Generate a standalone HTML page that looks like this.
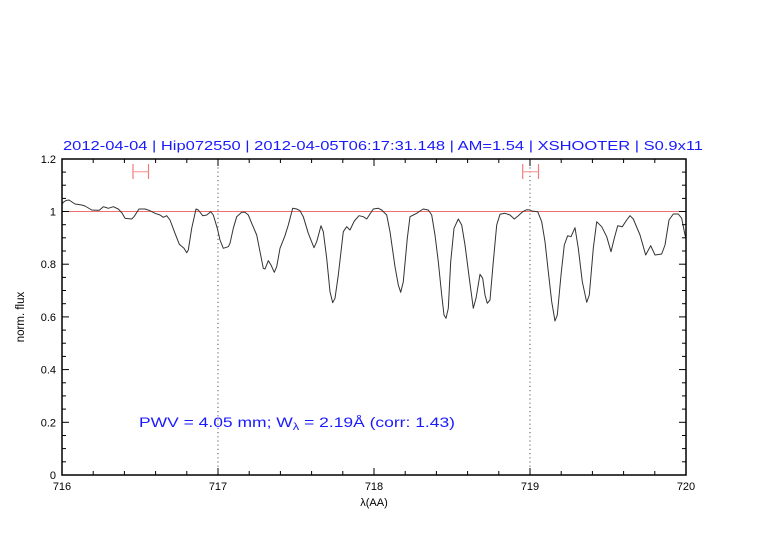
<!DOCTYPE html>
<html>
<head>
<meta charset="utf-8">
<style>
html,body{margin:0;padding:0;background:#fff;}
svg{display:block;}
text{font-family:"Liberation Sans",sans-serif;}
</style>
</head>
<body>
<svg width="782" height="542" viewBox="0 0 782 542" xmlns="http://www.w3.org/2000/svg">
<rect width="782" height="542" fill="#fff"/>

<!-- title -->
<text x="63" y="150" font-size="13" fill="#1a1aff" textLength="640" lengthAdjust="spacingAndGlyphs">2012-04-04 | Hip072550 | 2012-04-05T06:17:31.148 | AM=1.54 | XSHOOTER | S0.9x11</text>

<!-- dotted verticals -->
<line x1="218" y1="159" x2="218" y2="475" stroke="#555" stroke-width="1" stroke-dasharray="1.2,3"/>
<line x1="530" y1="159" x2="530" y2="475" stroke="#555" stroke-width="1" stroke-dasharray="1.2,3"/>

<!-- continuum line -->
<line x1="62" y1="211.5" x2="686" y2="211.5" stroke="#f07070" stroke-width="1"/>

<!-- red markers -->
<g stroke="#f47a7a" stroke-width="1.2" fill="none">
<line x1="133" y1="164" x2="133" y2="179"/>
<line x1="148.5" y1="164" x2="148.5" y2="179"/>
<line x1="133" y1="171.7" x2="148.5" y2="171.7" stroke="#f8a0a0"/>
<line x1="522.7" y1="164" x2="522.7" y2="179"/>
<line x1="538.5" y1="164" x2="538.5" y2="179"/>
<line x1="522.7" y1="171.7" x2="538.5" y2="171.7" stroke="#f8a0a0"/>
</g>

<!-- spectrum -->
<polyline fill="none" stroke="#333" stroke-width="1" stroke-linejoin="round" points="
62,204 63.3,202.3 66,200.5 69,200 72,202 75,204 81.7,205 85,206 91.7,210 96.7,210.3 99.3,210.3 103.3,206.7 106,207.5 108.3,208.3 113.3,206.7 118.3,209 122,213 125,218.3 131.7,219 134,216.7 139,209 145,209 150,210.7 155,213.3 160,215 163.3,217.3 166.7,215.7 170,220 175,233.3 179.3,244.3 184,248.3 186.7,252.7 188.3,250 191.7,228.3 196,209 198.3,210 202.7,215.7 206.7,215 210.7,211.7 213.3,215 217.3,228.3 220,240 223.3,248.3 228.3,246.7 230,243.3 233.3,228.3 236.7,216.7 241.7,212.3 245,212.3 248.3,215 251.7,223.3 256.7,235 260,251.7 263.3,268.3 265,269 268.3,260.7 271,265 274.3,272.3 276.7,266.7 280,248.3 285,235.7 288.3,225 292.7,208.3 296.7,209 300,210.7 303.3,216.7 308.3,233.3 314,247.7 316.7,241.7 321,225.7 323.3,231.7 326.7,258.3 330,291.7 332.7,302.7 335,298.3 338.3,275 343.3,231.7 346.7,226.7 350,230 354.3,221 359,215.7 363.3,216.7 366.7,219 369.3,215 373.3,209 378.3,208.3 381.7,210 386.7,215 390,231.7 395,266.7 398.3,285 400.7,292.3 403.3,281.7 407.3,238.3 410,216.7 413.3,215 416.7,213.3 420,211 423.3,209 428.3,210 431.7,215 435,235 438.3,261.7 441.7,295 444,315 446,318.3 448.3,308.3 450.7,261.7 454,228.3 458.3,219 461.7,225 465,245 469.3,278.3 473.3,308.3 476,298.3 480,274.3 482.7,278.3 485,295 487.3,303.3 490,300 493.3,261.7 496.7,225 500,214.3 505,213.3 510,215 514.3,219 518.3,215.7 522.7,211.7 526.7,209.7 530,210 531.7,211 537.7,211.7 541.7,221.7 545,241.7 548.3,271.7 551.7,301.7 555,321 557.3,315 561,275 564.3,245 567.7,235.7 571,236.7 575,227.7 578.3,248.3 582.3,281.7 586.7,302.3 589.3,295 593.3,248.3 596.7,221.7 601.7,226.7 606.7,236.7 611,251.7 614.3,238.3 617.7,225.7 622.3,226.7 626.7,220 630,215.7 633.3,219 640,235 645.7,255 650.7,245.7 655,255 661.7,254 665,245 669,220 673.3,214 678.3,214 681.7,218.3 685,235 686,238"/>

<!-- axes box -->
<rect x="62" y="159" width="624" height="316" fill="none" stroke="#000" stroke-width="1.5"/>

<!-- x ticks -->
<g stroke="#000" stroke-width="1">
<!-- major bottom/top -->
<line x1="62" y1="475" x2="62" y2="468"/><line x1="218" y1="475" x2="218" y2="468"/><line x1="374" y1="475" x2="374" y2="468"/><line x1="530" y1="475" x2="530" y2="468"/><line x1="686" y1="475" x2="686" y2="468"/>
<line x1="62" y1="159" x2="62" y2="166"/><line x1="218" y1="159" x2="218" y2="166"/><line x1="374" y1="159" x2="374" y2="166"/><line x1="530" y1="159" x2="530" y2="166"/><line x1="686" y1="159" x2="686" y2="166"/>
<!-- minor bottom -->
<line x1="93.2" y1="475" x2="93.2" y2="471"/><line x1="124.4" y1="475" x2="124.4" y2="471"/><line x1="155.6" y1="475" x2="155.6" y2="471"/><line x1="186.8" y1="475" x2="186.8" y2="471"/>
<line x1="249.2" y1="475" x2="249.2" y2="471"/><line x1="280.4" y1="475" x2="280.4" y2="471"/><line x1="311.6" y1="475" x2="311.6" y2="471"/><line x1="342.8" y1="475" x2="342.8" y2="471"/>
<line x1="405.2" y1="475" x2="405.2" y2="471"/><line x1="436.4" y1="475" x2="436.4" y2="471"/><line x1="467.6" y1="475" x2="467.6" y2="471"/><line x1="498.8" y1="475" x2="498.8" y2="471"/>
<line x1="561.2" y1="475" x2="561.2" y2="471"/><line x1="592.4" y1="475" x2="592.4" y2="471"/><line x1="623.6" y1="475" x2="623.6" y2="471"/><line x1="654.8" y1="475" x2="654.8" y2="471"/>
<!-- minor top -->
<line x1="93.2" y1="159" x2="93.2" y2="163"/><line x1="124.4" y1="159" x2="124.4" y2="163"/><line x1="155.6" y1="159" x2="155.6" y2="163"/><line x1="186.8" y1="159" x2="186.8" y2="163"/>
<line x1="249.2" y1="159" x2="249.2" y2="163"/><line x1="280.4" y1="159" x2="280.4" y2="163"/><line x1="311.6" y1="159" x2="311.6" y2="163"/><line x1="342.8" y1="159" x2="342.8" y2="163"/>
<line x1="405.2" y1="159" x2="405.2" y2="163"/><line x1="436.4" y1="159" x2="436.4" y2="163"/><line x1="467.6" y1="159" x2="467.6" y2="163"/><line x1="498.8" y1="159" x2="498.8" y2="163"/>
<line x1="561.2" y1="159" x2="561.2" y2="163"/><line x1="592.4" y1="159" x2="592.4" y2="163"/><line x1="623.6" y1="159" x2="623.6" y2="163"/><line x1="654.8" y1="159" x2="654.8" y2="163"/>
</g>

<!-- y ticks -->
<g stroke="#000" stroke-width="1">
<!-- major left/right: 0..1.2 step 0.2 -->
<line x1="62" y1="475" x2="69" y2="475"/><line x1="62" y1="422.3" x2="69" y2="422.3"/><line x1="62" y1="369.6" x2="69" y2="369.6"/><line x1="62" y1="316.9" x2="69" y2="316.9"/><line x1="62" y1="264.2" x2="69" y2="264.2"/><line x1="62" y1="211.5" x2="69" y2="211.5"/><line x1="62" y1="159" x2="69" y2="159"/>
<line x1="686" y1="475" x2="679" y2="475"/><line x1="686" y1="422.3" x2="679" y2="422.3"/><line x1="686" y1="369.6" x2="679" y2="369.6"/><line x1="686" y1="316.9" x2="679" y2="316.9"/><line x1="686" y1="264.2" x2="679" y2="264.2"/><line x1="686" y1="211.5" x2="679" y2="211.5"/><line x1="686" y1="159" x2="679" y2="159"/>
<!-- minor left -->
<line x1="62" y1="461.8" x2="66" y2="461.8"/><line x1="62" y1="448.6" x2="66" y2="448.6"/><line x1="62" y1="435.5" x2="66" y2="435.5"/>
<line x1="62" y1="409.1" x2="66" y2="409.1"/><line x1="62" y1="395.9" x2="66" y2="395.9"/><line x1="62" y1="382.8" x2="66" y2="382.8"/>
<line x1="62" y1="356.4" x2="66" y2="356.4"/><line x1="62" y1="343.2" x2="66" y2="343.2"/><line x1="62" y1="330.1" x2="66" y2="330.1"/>
<line x1="62" y1="303.7" x2="66" y2="303.7"/><line x1="62" y1="290.5" x2="66" y2="290.5"/><line x1="62" y1="277.4" x2="66" y2="277.4"/>
<line x1="62" y1="251" x2="66" y2="251"/><line x1="62" y1="237.8" x2="66" y2="237.8"/><line x1="62" y1="224.7" x2="66" y2="224.7"/>
<line x1="62" y1="198.4" x2="66" y2="198.4"/><line x1="62" y1="185.2" x2="66" y2="185.2"/><line x1="62" y1="172.1" x2="66" y2="172.1"/>
<!-- minor right -->
<line x1="686" y1="461.8" x2="682" y2="461.8"/><line x1="686" y1="448.6" x2="682" y2="448.6"/><line x1="686" y1="435.5" x2="682" y2="435.5"/>
<line x1="686" y1="409.1" x2="682" y2="409.1"/><line x1="686" y1="395.9" x2="682" y2="395.9"/><line x1="686" y1="382.8" x2="682" y2="382.8"/>
<line x1="686" y1="356.4" x2="682" y2="356.4"/><line x1="686" y1="343.2" x2="682" y2="343.2"/><line x1="686" y1="330.1" x2="682" y2="330.1"/>
<line x1="686" y1="303.7" x2="682" y2="303.7"/><line x1="686" y1="290.5" x2="682" y2="290.5"/><line x1="686" y1="277.4" x2="682" y2="277.4"/>
<line x1="686" y1="251" x2="682" y2="251"/><line x1="686" y1="237.8" x2="682" y2="237.8"/><line x1="686" y1="224.7" x2="682" y2="224.7"/>
<line x1="686" y1="198.4" x2="682" y2="198.4"/><line x1="686" y1="185.2" x2="682" y2="185.2"/><line x1="686" y1="172.1" x2="682" y2="172.1"/>
</g>

<!-- y tick labels -->
<g font-size="11" fill="#000" text-anchor="end">
<text x="56" y="479">0</text>
<text x="56" y="426.3">0.2</text>
<text x="56" y="373.6">0.4</text>
<text x="56" y="320.9">0.6</text>
<text x="56" y="268.2">0.8</text>
<text x="56" y="215.5">1</text>
<text x="56" y="163">1.2</text>
</g>

<!-- x tick labels -->
<g font-size="11" fill="#000" text-anchor="middle">
<text x="62" y="490">716</text>
<text x="218" y="490">717</text>
<text x="374" y="490">718</text>
<text x="530" y="490">719</text>
<text x="686" y="490">720</text>
</g>

<!-- axis labels -->
<text x="374" y="506" font-size="11" text-anchor="middle" fill="#000">λ(AA)</text>
<text transform="translate(24,317) rotate(-90)" font-size="11.5" text-anchor="middle" fill="#000">norm. flux</text>

<!-- PWV annotation -->
<text x="139" y="427" font-size="13.5" fill="#1a1aff" textLength="316" lengthAdjust="spacingAndGlyphs">PWV = 4.05 mm; W<tspan font-size="10" dy="3">λ</tspan><tspan dy="-3"> = 2.19Å (corr: 1.43)</tspan></text>

</svg>
</body>
</html>
